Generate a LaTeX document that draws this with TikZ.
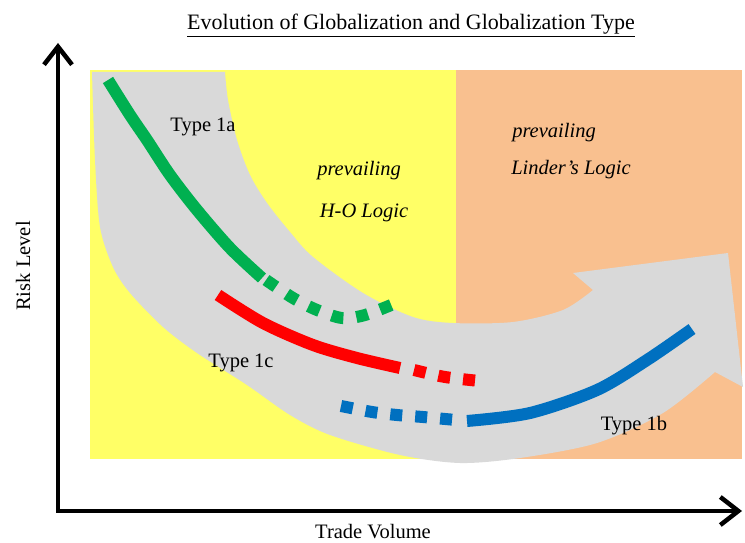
\documentclass[tikz,border=0pt]{standalone}
\usepackage{fontspec}
\setmainfont{Liberation Serif}
\usetikzlibrary{arrows.meta}

\definecolor{hoyellow}{RGB}{255,255,102}
\definecolor{linderpeach}{RGB}{249,192,143}
\definecolor{bandgray}{RGB}{217,217,217}
\definecolor{typegreen}{RGB}{0,176,80}
\definecolor{typered}{RGB}{255,0,0}
\definecolor{typeblue}{RGB}{0,112,192}

\begin{document}
\begin{tikzpicture}[x=1pt, y=-1pt,
    axis line/.style={line width=4.5pt, {Straight Barb[length=18pt,width=28pt]}-{Straight Barb[length=18pt,width=28pt]}},
    type path/.style={line width=12pt},
    type dashed/.style={line width=12pt, dash pattern=on 12pt off 13pt},
    label node/.style={font=\fontsize{20.5}{24}\selectfont, inner sep=0pt},
    logic node/.style={font=\fontsize{20.5}{24}\selectfont\itshape, inner sep=0pt}]
    \useasboundingbox (0,0) rectangle (745,543);

    % background regions
    \fill[hoyellow] (90,70) rectangle (456,459);
    \fill[linderpeach] (456,70) rectangle (742,459);

    % curved band
    \fill[bandgray] (92,72) -- (225,72)
        -- plot[smooth] coordinates {(225,72) (228,100) (237,140) (250,175) (267,203) (290,232) (313,257) (363,293) (413,317) (453,323) (513,322) (563,310) (593,290)}
        -- (573,273) -- (728,253) -- (743,387) -- (715,372)
        -- plot[smooth] coordinates {(715,372) (663,413) (597,443) (520,458) (460,463) (400,455) (330,435) (290,415) (247,385) (197,353) (163,327) (130,293) (113,267) (100,227) (95,160) (92,72)}
        -- cycle;

    % type paths
    \draw[type path, typegreen] plot[smooth] coordinates {(108,80) (130,115) (147,140) (170,175) (197,210) (230,248) (262,278)};
    \draw[type dashed, typegreen] plot[smooth] coordinates {(266,280) (293,298) (317,310) (342,318) (365,315) (396,303)};
    \draw[type path, typered] plot[smooth] coordinates {(218,295) (263,323) (313,345) (357,358) (400,368)};
    \draw[type dashed, typered] plot[smooth] coordinates {(414,370) (445,377) (480,381)};
    \draw[type dashed, typeblue] plot[smooth] coordinates {(341,406) (372,412) (397,415) (423,417) (456,420)};
    \draw[type path, typeblue] plot[smooth] coordinates {(467,421) (530,413) (597,390) (647,360) (692,329)};

    % axes
    \coordinate (origin) at (58,511);
    \coordinate (ytip) at (58,43);
    \coordinate (xtip) at (742,511);
    \draw[axis line] (ytip) -- (origin) -- (xtip);

    % labels
    \node[font=\fontsize{22}{26}\selectfont, inner sep=0pt, anchor=base] (title) at (411,30) {\underline{Evolution of Globalization and Globalization Type}};
    \node[label node, rotate=90] (risk) at (23,266) {Risk Level};
    \node[label node] (trade) at (373,532) {Trade Volume};
    \node[label node] (type1a) at (203,127) {Type 1a};
    \node[label node] (type1c) at (241,363) {Type 1c};
    \node[label node] (type1b) at (634,426) {Type 1b};
    \node[logic node] (hoprev) at (359,171) {prevailing};
    \node[logic node] (holog) at (364,213) {H-O Logic};
    \node[logic node] (linprev) at (554,133) {prevailing};
    \node[logic node] (linlog) at (571,170) {Linder’s Logic};
\end{tikzpicture}
\end{document}
